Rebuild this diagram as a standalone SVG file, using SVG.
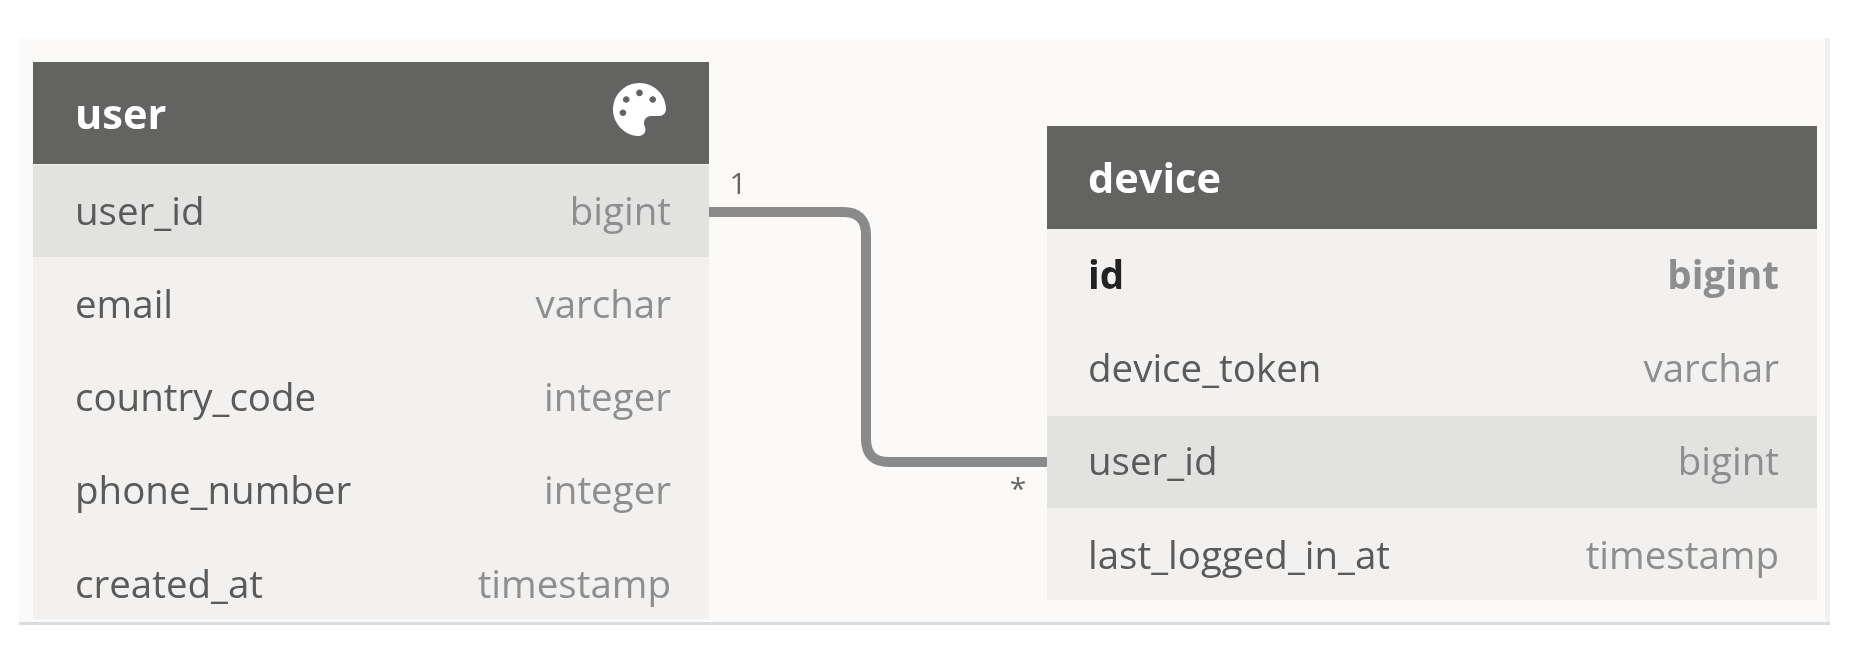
<svg xmlns="http://www.w3.org/2000/svg" width="1868" height="666" viewBox="0 0 1868 666">
<defs><filter id="soft" x="0" y="0" width="100%" height="100%" filterUnits="userSpaceOnUse" primitiveUnits="userSpaceOnUse"><feGaussianBlur stdDeviation="0.7"/></filter></defs>
<style>
text{font-family:"Open Sans","Noto Sans",sans-serif;font-size:38.5px}
.head{fill:#636362}
.title{fill:#fff;font-weight:700;font-size:41.5px}
.body{fill:#f2f1f0}
.hl{fill:#e2e2e1}
.n{fill:#5a5a5a}
.t{fill:#8e8e8e;text-anchor:end}
.card{font-size:30px;fill:#666}
</style>
<rect width="1868" height="666" fill="#fff"/>
<g filter="url(#soft)">
<rect x="19" y="38" width="1811" height="585" fill="#fbfaf8"/>
<rect x="1825" y="38" width="5" height="585" fill="#f1f1f0"/>
<rect x="19" y="622" width="1811" height="3" fill="#dcdcdc"/>
<g id="connectors">
<path d="M709 212H843Q866 212 866 235V439Q866 462 889 462H1047" fill="none" stroke="#8a8a8a" stroke-width="10"/>
<text class="card" x="738" y="194" text-anchor="middle">1</text>
<text class="card" x="1018" y="499" text-anchor="middle">*</text>
</g>
<g id="user">
<rect class="body" x="33" y="164" width="676" height="455"/>
<rect class="head" x="33" y="62" width="676" height="102"/>
<text class="title" x="75" y="129">user</text>
<path fill="#fff" fill-rule="evenodd" transform="translate(613 83) scale(.1035)" d="M204.3 5C104.9 24.4 24.8 104.3 5.2 203.4c-37 187 131.7 326.4 258.8 306.7 41.2-6.4 61.4-54.6 42.5-91.7-23.1-45.4 9.9-98.4 60.9-98.4h79.7c35.8 0 64.8-29.6 64.9-65.3C511.5 97.1 368.1-26.9 204.3 5zM96 320c-17.7 0-32-14.3-32-32s14.3-32 32-32 32 14.3 32 32-14.3 32-32 32zm32-128c-17.7 0-32-14.3-32-32s14.3-32 32-32 32 14.3 32 32-14.3 32-32 32zm128-64c-17.7 0-32-14.3-32-32s14.3-32 32-32 32 14.3 32 32-14.3 32-32 32zm128 64c-17.7 0-32-14.3-32-32s14.3-32 32-32 32 14.3 32 32-14.3 32-32 32z"/>
<rect class="hl" x="33" y="165" width="676" height="92"/>
<text class="n" x="75" y="225">user_id</text><text class="t" x="671" y="225">bigint</text>
<text class="n" x="75" y="318">email</text><text class="t" x="671" y="318">varchar</text>
<text class="n" x="75" y="411">country_code</text><text class="t" x="671" y="411">integer</text>
<text class="n" x="75" y="504">phone_number</text><text class="t" x="671" y="504">integer</text>
<text class="n" x="75" y="598">created_at</text><text class="t" x="671" y="598">timestamp</text>
</g>
<g id="device">
<rect class="body" x="1047" y="229" width="770" height="371"/>
<rect class="head" x="1047" y="126" width="770" height="103"/>
<text class="title" x="1088" y="193">device</text>
<text x="1088" y="289" font-weight="700" fill="#222">id</text><text class="t" x="1779" y="289" font-weight="700">bigint</text>
<text class="n" x="1088" y="382">device_token</text><text class="t" x="1779" y="382">varchar</text>
<rect class="hl" x="1047" y="416" width="770" height="92"/>
<text class="n" x="1088" y="475">user_id</text><text class="t" x="1779" y="475">bigint</text>
<text class="n" x="1088" y="569">last_logged_in_at</text><text class="t" x="1779" y="569">timestamp</text>
</g>
</g>
</svg>
